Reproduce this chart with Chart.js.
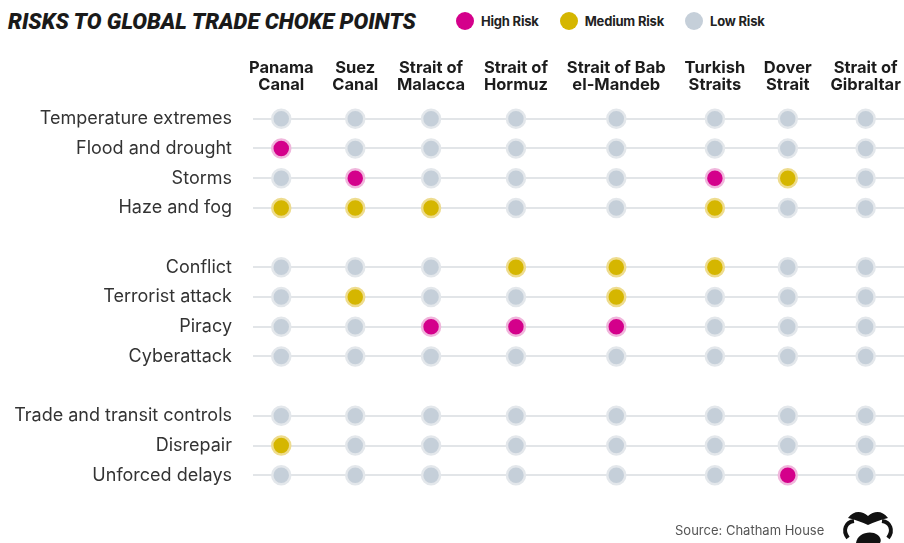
<!DOCTYPE html>
<html>
<head>
<meta charset="utf-8">
<script src="https://cdn.jsdelivr.net/npm/chart.js@4"></script>
<style>
  html, body { margin: 0; padding: 0; background: #fff; }
  body { width: 904px; height: 543px; position: relative; overflow: hidden; font-family: Inter, sans-serif; }
  #title { position: absolute; left: 8px; top: 9px; font: italic 900 22px Roboto, sans-serif; color: #1a1a1a; }
  #legend { position: absolute; left: 456px; top: 12px; display: flex; align-items: center; font: bold 13px Inter, sans-serif; color: #222; letter-spacing: -0.2px; }
  #legend span.dot { width: 18px; height: 18px; border-radius: 50%; display: inline-block; margin-right: 7px; }
  #legend .item { display: flex; align-items: center; margin-right: 21px; }
  #source { position: absolute; left: 675px; top: 522px; font: 13px Inter, sans-serif; color: #555; }
  #logo { position: absolute; left: 840px; top: 510px; }
  #wrap { position: absolute; left: 0; top: 0; width: 904px; height: 543px; }
</style>
</head>
<body>
<div id="title">RISKS TO GLOBAL TRADE CHOKE POINTS</div>
<div id="legend"></div>
<div id="wrap"><canvas id="chart"></canvas></div>
<div id="source">Source: Chatham House</div>
<svg id="logo" width="56" height="33" viewBox="0 0 56 33">
  <path d="M8 28 C 2 20, 6 12, 14 11 M42 11 C 50 12, 54 20, 48 28" fill="none" stroke="#111" stroke-width="4"/>
  <path d="M8 8 C 14 0, 22 1, 28 6 C 34 1, 42 0, 48 8 C 40 10, 34 12, 28 15 C 22 12, 16 10, 8 8 Z" fill="#111"/>
  <path d="M16 33 C 17 25, 26 21, 34 23 C 40 25, 42 30, 40 33 Z" fill="#111"/>
</svg>
<script>
/* Risks to global trade choke points - dot matrix (Chart.js) */

const CHOKE_POINTS = [
  ['Panama', 'Canal'],
  ['Suez', 'Canal'],
  ['Strait of', 'Malacca'],
  ['Strait of', 'Hormuz'],
  ['Strait of Bab', 'el-Mandeb'],
  ['Turkish', 'Straits'],
  ['Dover', 'Strait'],
  ['Strait of', 'Gibraltar'],
];

// risk groups, shown with a blank row between them
const ENVIRONMENT_RISKS = ['Temperature extremes', 'Flood and drought', 'Storms', 'Haze and fog'];
const SECURITY_RISKS = ['Conflict', 'Terrorist attack', 'Piracy', 'Cyberattack'];
const INSTITUTIONAL_RISKS = ['Trade and transit controls', 'Disrepair', 'Unforced delays'];

// H = high, M = medium, L = low ; one letter per choke point (same order as CHOKE_POINTS)
const RISK_LEVELS = {
  'Temperature extremes':       'LLLLLLLL',
  'Flood and drought':          'HLLLLLLL',
  'Storms':                     'LHLLLHML',
  'Haze and fog':               'MMMLLMLL',
  'Conflict':                   'LLLMMMLL',
  'Terrorist attack':           'LMLLMLLL',
  'Piracy':                     'LLHHHLLL',
  'Cyberattack':                'LLLLLLLL',
  'Trade and transit controls': 'LLLLLLLL',
  'Disrepair':                  'MLLLLLLL',
  'Unforced delays':            'LLLLLLHL',
};

const LEVELS = [
  { key: 'H', label: 'High Risk',   color: '#d4008b', ring: '#f0b6dc' },
  { key: 'M', label: 'Medium Risk', color: '#d5b600', ring: '#eedc8e' },
  { key: 'L', label: 'Low Risk',    color: '#c5cfd9', ring: '#e3e7eb' },
];

const HEADER_FONT = 'bold 16.5px Inter, sans-serif';
const HEADER_GAP = 18;

// row slots: groups separated by one empty slot
const rowLabels = {};
let slot = 0;
[ENVIRONMENT_RISKS, SECURITY_RISKS, INSTITUTIONAL_RISKS].forEach((group, gi) => {
  if (gi > 0) slot++;
  group.forEach(name => { rowLabels[slot] = name; slot++; });
});
const lastSlot = slot - 1;

// column centres follow the header text widths, like the original layout
const measure = document.createElement('canvas').getContext('2d');
measure.font = HEADER_FONT;
const widths = CHOKE_POINTS.map(lines => Math.max(...lines.map(l => measure.measureText(l).width)));
const colCenters = [];
widths.forEach((w, i) => {
  colCenters.push(i === 0 ? w / 2 : colCenters[i - 1] + widths[i - 1] / 2 + HEADER_GAP + w / 2);
});

// legend
const legendEl = document.getElementById('legend');
LEVELS.forEach(l => {
  const item = document.createElement('div');
  item.className = 'item';
  item.innerHTML = `<span class="dot" style="background:${l.color}"></span>${l.label}`;
  legendEl.appendChild(item);
});

const datasets = LEVELS.map(level => {
  const data = [];
  Object.keys(rowLabels).forEach(s => {
    RISK_LEVELS[rowLabels[s]].split('').forEach((v, ci) => {
      if (v === level.key) data.push({ x: colCenters[ci], y: Number(s) });
    });
  });
  return {
    label: level.label,
    data,
    backgroundColor: level.color,
    borderColor: level.ring,
    borderWidth: 2.5,
    pointRadius: 9,
    pointHoverRadius: 9,
  };
}).reverse();

const ctx = document.getElementById('chart').getContext('2d');
new Chart(ctx, {
  type: 'scatter',
  data: { datasets },
  options: {
    responsive: true,
    maintainAspectRatio: false,
    animation: false,
    events: [],
    clip: false,
    layout: { autoPadding: false, padding: { top: 50, bottom: 47, left: 0, right: 0 } },
    plugins: { legend: { display: false }, tooltip: { enabled: false } },
    scales: {
      x: {
        type: 'linear',
        position: 'top',
        min: colCenters[0] - 28,
        max: colCenters[colCenters.length - 1] + 38,
        afterFit: s => { s.height = 48; s.paddingLeft = 0; s.paddingRight = 0; },
        afterBuildTicks: s => { s.ticks = colCenters.map(v => ({ value: v })); },
        grid: { display: false, drawTicks: false },
        border: { display: false },
        ticks: {
          autoSkip: false,
          maxRotation: 0,
          padding: 4,
          color: '#1c1c1c',
          font: { family: 'Inter, sans-serif', size: 16.5, weight: 'bold', lineHeight: 1.03 },
          callback: (val, i) => CHOKE_POINTS[i],
        },
      },
      y: {
        type: 'linear',
        reverse: true,
        min: -0.7,
        max: lastSlot + 0.7,
        afterFit: s => { s.width = 253; },
        afterBuildTicks: s => { s.ticks = Object.keys(rowLabels).map(v => ({ value: Number(v) })); },
        grid: { color: '#e2e5e8', lineWidth: 2, drawTicks: false },
        border: { display: false },
        ticks: {
          autoSkip: false,
          padding: 21,
          color: '#333',
          font: { family: 'Inter, sans-serif', size: 18 },
          callback: val => rowLabels[val] || '',
        },
      },
    },
  },
});
</script>
</body>
</html>
